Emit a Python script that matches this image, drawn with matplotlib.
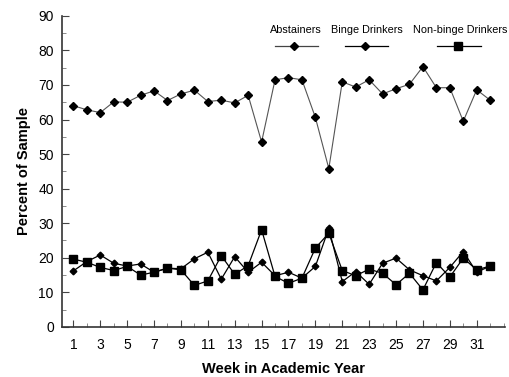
import matplotlib
matplotlib.use("Agg")
import matplotlib.pyplot as plt
from matplotlib.lines import Line2D
from matplotlib.ticker import MultipleLocator

plt.rcParams['font.family'] = ['Liberation Sans', 'DejaVu Sans']

weeks = list(range(1, 33))
abstainers = [64, 62.8, 62, 65.1, 65, 67, 68.3, 65.5, 67.4, 68.5, 65.2, 65.6, 64.8, 67,
              53.5, 71.5, 72.1, 71.5, 60.6, 45.8, 70.9, 69.4, 71.5, 67.4, 68.9, 70.2,
              75.3, 69.2, 69.2, 59.5, 68.6, 65.6]
binge = [16.2, 18.9, 20.8, 18.4, 17.6, 18.2, 15.8, 17.0, 16.8, 19.7, 21.6, 13.8, 20.3, 15.8,
         18.7, 14.8, 15.8, 14.1, 17.5, 28.5, 13.1, 16.0, 12.3, 18.4, 19.9, 16.5, 14.8,
         13.3, 17.2, 21.8, 15.8, 17.6]
nonbinge = [19.6, 18.7, 17.2, 16.3, 17.5, 15.0, 15.8, 17.0, 16.5, 12.0, 13.3, 20.6, 15.2,
            17.7, 28.1, 14.6, 12.6, 14.1, 22.8, 27.1, 16.3, 14.8, 16.7, 15.5, 12.2, 15.5,
            10.7, 18.6, 14.4, 19.9, 16.5, 17.6]
series_names = ["Abstainers", "Binge Drinkers", "Non-binge Drinkers"]
x_tick_labels = [1, 3, 5, 7, 9, 11, 13, 15, 17, 19, 21, 23, 25, 27, 29, 31]

fig = plt.figure(figsize=(5.09, 3.77), dpi=100)
ax = fig.add_axes([0.122, 0.133, 0.870, 0.825])

ax.plot(weeks, abstainers, color='#555555', lw=0.8, marker='D', ms=4.3,
        mfc='black', mec='black')
ax.plot(weeks, binge, color='black', lw=0.9, marker='D', ms=3.4,
        mfc='black', mec='black')
ax.plot(weeks, nonbinge, color='black', lw=0.9, marker='s', ms=5.6,
        mfc='black', mec='black')

ax.set_xlim(0.16, 33.1)
ax.set_ylim(0, 90)
ax.set_xticks(x_tick_labels)
ax.set_xticklabels([str(v) for v in x_tick_labels])
ax.xaxis.set_minor_locator(MultipleLocator(1))
ax.yaxis.set_major_locator(MultipleLocator(10))
ax.yaxis.set_minor_locator(MultipleLocator(5))
ax.tick_params(axis='both', which='major', direction='in', length=5, width=0.8,
               labelsize=10, colors='#444444', labelcolor='black')
ax.tick_params(axis='both', which='minor', direction='in', length=3, width=0.6,
               colors='#777777')
ax.tick_params(axis='x', pad=8)
ax.tick_params(axis='y', pad=6)
for s in ['top', 'right']:
    ax.spines[s].set_visible(False)
for s in ['left', 'bottom']:
    ax.spines[s].set_linewidth(1.2)
    ax.spines[s].set_color('#333333')

ax.set_xlabel("Week in Academic Year", fontsize=10.5, fontweight='bold', labelpad=7)
ax.set_ylabel("Percent of Sample", fontsize=10.5, fontweight='bold', labelpad=5)

# custom legend: text above sample line
def fx(px):
    return px / 509.0
def fy(py):
    return 1 - py / 377.0

leg = [
    (296, 'D', 4.3, '#444444', 275, 318),
    (367, 'D', 3.6, 'black', 345, 388),
    (460, 's', 5.6, 'black', 437, 481),
]
for (cx, mk, ms, lc, x0, x1), name in zip(leg, series_names):
    fig.text(fx(cx), fy(30), name, ha='center', va='center', fontsize=7.8)
    fig.add_artist(Line2D([fx(x0), fx(x1)], [fy(45.5), fy(45.5)], color=lc, lw=0.9,
                          transform=fig.transFigure))
    fig.add_artist(Line2D([fx(cx - 2)], [fy(45.5)], marker=mk, ms=ms, color='black',
                          transform=fig.transFigure))

fig.savefig("out.png", dpi=100)
